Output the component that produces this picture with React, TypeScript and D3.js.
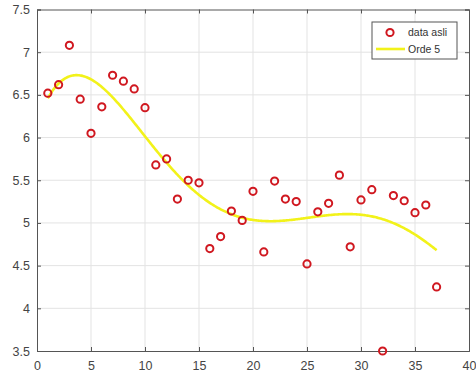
import * as d3 from "d3";
import { useEffect, useRef } from "react";

const xValues = [1, 2, 3, 4, 5, 6, 7, 8, 9, 10, 11, 12, 13, 14, 15, 16, 17, 18, 19, 20, 21, 22, 23, 24, 25, 26, 27, 28, 29, 30, 31, 32, 33, 34, 35, 36, 37];
const yValues = [6.52, 6.62, 7.08, 6.45, 6.05, 6.36, 6.73, 6.66, 6.57, 6.35, 5.68, 5.75, 5.28, 5.5, 5.47, 4.7, 4.84, 5.14, 5.03, 5.37, 4.66, 5.49, 5.28, 5.25, 4.52, 5.13, 5.23, 5.56, 4.72, 5.27, 5.39, 3.5, 5.32, 5.26, 5.12, 5.21, 4.25];
const xTicks = [0, 5, 10, 15, 20, 25, 30, 35, 40];
const yTicks = [3.5, 4, 4.5, 5, 5.5, 6, 6.5, 7, 7.5];
const legendLabels = ["data asli", "Orde 5"];

// least squares polynomial fit (normal equations on centred/scaled x)
function polyfit(xs: number[], ys: number[], deg: number) {
  const mu = d3.mean(xs) as number;
  const sd = d3.deviation(xs) as number;
  const n = deg + 1;
  const A = Array.from({ length: n }, () => new Array(n + 1).fill(0));
  xs.forEach((x, k) => {
    const t = (x - mu) / sd;
    for (let i = 0; i < n; i++) {
      for (let j = 0; j < n; j++) A[i][j] += Math.pow(t, i + j);
      A[i][n] += Math.pow(t, i) * ys[k];
    }
  });
  for (let i = 0; i < n; i++) {
    let p = i;
    for (let r = i + 1; r < n; r++) if (Math.abs(A[r][i]) > Math.abs(A[p][i])) p = r;
    [A[i], A[p]] = [A[p], A[i]];
    for (let r = 0; r < n; r++) {
      if (r === i) continue;
      const f = A[r][i] / A[i][i];
      for (let c = i; c <= n; c++) A[r][c] -= f * A[i][c];
    }
  }
  const coef = A.map((row, i) => row[n] / row[i]);
  return (x: number) => {
    const t = (x - mu) / sd;
    return coef.reduce((s, c, i) => s + c * Math.pow(t, i), 0);
  };
}

const App = () => {
  const ref = useRef<SVGSVGElement>(null);

  useEffect(() => {
    const width = 476;
    const height = 375;
    const margin = { top: 9.5, right: 7, bottom: 24, left: 37 };
    const svg = d3.select(ref.current);
    svg.selectAll("*").remove();

    const x = d3.scaleLinear().domain([0, 40]).range([margin.left, width - margin.right]);
    const y = d3.scaleLinear().domain([3.5, 7.5]).range([height - margin.bottom, margin.top]);
    const font = "'Liberation Sans', Arial, sans-serif";
    const axisColor = "#555";

    svg.append("rect")
      .attr("x", x(0)).attr("y", y(7.5))
      .attr("width", x(40) - x(0)).attr("height", y(3.5) - y(7.5))
      .attr("fill", "#fff");

    // grid
    svg.append("g").selectAll("line").data(xTicks.slice(1, -1)).join("line")
      .attr("x1", (d) => x(d)).attr("x2", (d) => x(d))
      .attr("y1", y(3.5)).attr("y2", y(7.5))
      .attr("stroke", "#e3e3e3").attr("stroke-width", 1);
    svg.append("g").selectAll("line").data(yTicks.slice(1, -1)).join("line")
      .attr("x1", x(0)).attr("x2", x(40))
      .attr("y1", (d) => y(d)).attr("y2", (d) => y(d))
      .attr("stroke", "#e3e3e3").attr("stroke-width", 1);

    // axes
    const styleAxis = (g: any) => {
      g.select(".domain").attr("stroke", axisColor);
      g.selectAll(".tick line").attr("stroke", axisColor);
      g.selectAll("text").attr("fill", "#444").style("font-family", font).style("font-size", "12.5px");
    };
    svg.append("g").attr("transform", `translate(0,${y(3.5)})`)
      .call(d3.axisBottom(x).tickValues(xTicks).tickSize(-4).tickPadding(10.5).tickFormat(d3.format("d")))
      .call(styleAxis);
    svg.append("g").attr("transform", `translate(${x(0)},0)`)
      .call(d3.axisLeft(y).tickValues(yTicks).tickSize(-4).tickPadding(7).tickFormat((d: any) => String(d)))
      .call(styleAxis);
    svg.append("g").attr("transform", `translate(0,${y(7.5)})`)
      .call(d3.axisTop(x).tickValues(xTicks).tickSize(-4).tickFormat(() => ""))
      .call(styleAxis);
    svg.append("g").attr("transform", `translate(${x(40)},0)`)
      .call(d3.axisRight(y).tickValues(yTicks).tickSize(-4).tickFormat(() => ""))
      .call(styleAxis);

    // fit line
    const fit = polyfit(xValues, yValues, 5);
    const fx = d3.range(xValues[0], xValues[xValues.length - 1] + 0.001, 0.1);
    svg.append("path")
      .datum(fx)
      .attr("d", d3.line<number>().x((d) => x(d)).y((d) => y(fit(d))).curve(d3.curveLinear))
      .attr("fill", "none").attr("stroke", "#f2f21a").attr("stroke-width", 2.6);

    // data points
    svg.append("g").selectAll("circle").data(xValues).join("circle")
      .attr("cx", (d) => x(d)).attr("cy", (d, i) => y(yValues[i]))
      .attr("r", 3.6).attr("fill", "none").attr("stroke", "#d01820").attr("stroke-width", 2);

    // legend
    const lg = svg.append("g").attr("transform", "translate(372,22)");
    lg.append("rect").attr("width", 85).attr("height", 37)
      .attr("fill", "#fff").attr("stroke", "#555").attr("stroke-width", 1);
    lg.append("circle").attr("cx", 18).attr("cy", 10.5).attr("r", 3.6)
      .attr("fill", "none").attr("stroke", "#d01820").attr("stroke-width", 2);
    lg.append("line").attr("x1", 4).attr("x2", 33).attr("y1", 27).attr("y2", 27)
      .attr("stroke", "#f2f21a").attr("stroke-width", 2.6);
    lg.selectAll("text").data(legendLabels).join("text")
      .attr("x", 36).attr("y", (d, i) => 14 + i * 16.5)
      .attr("fill", "#333").style("font-family", font).style("font-size", "10.5px")
      .text((d) => d);
  }, []);

  return (
    <svg ref={ref} width={476} height={375}
      style={{ position: "absolute", left: 0, top: 0, background: "#fff" }} />
  );
};

export default App;
